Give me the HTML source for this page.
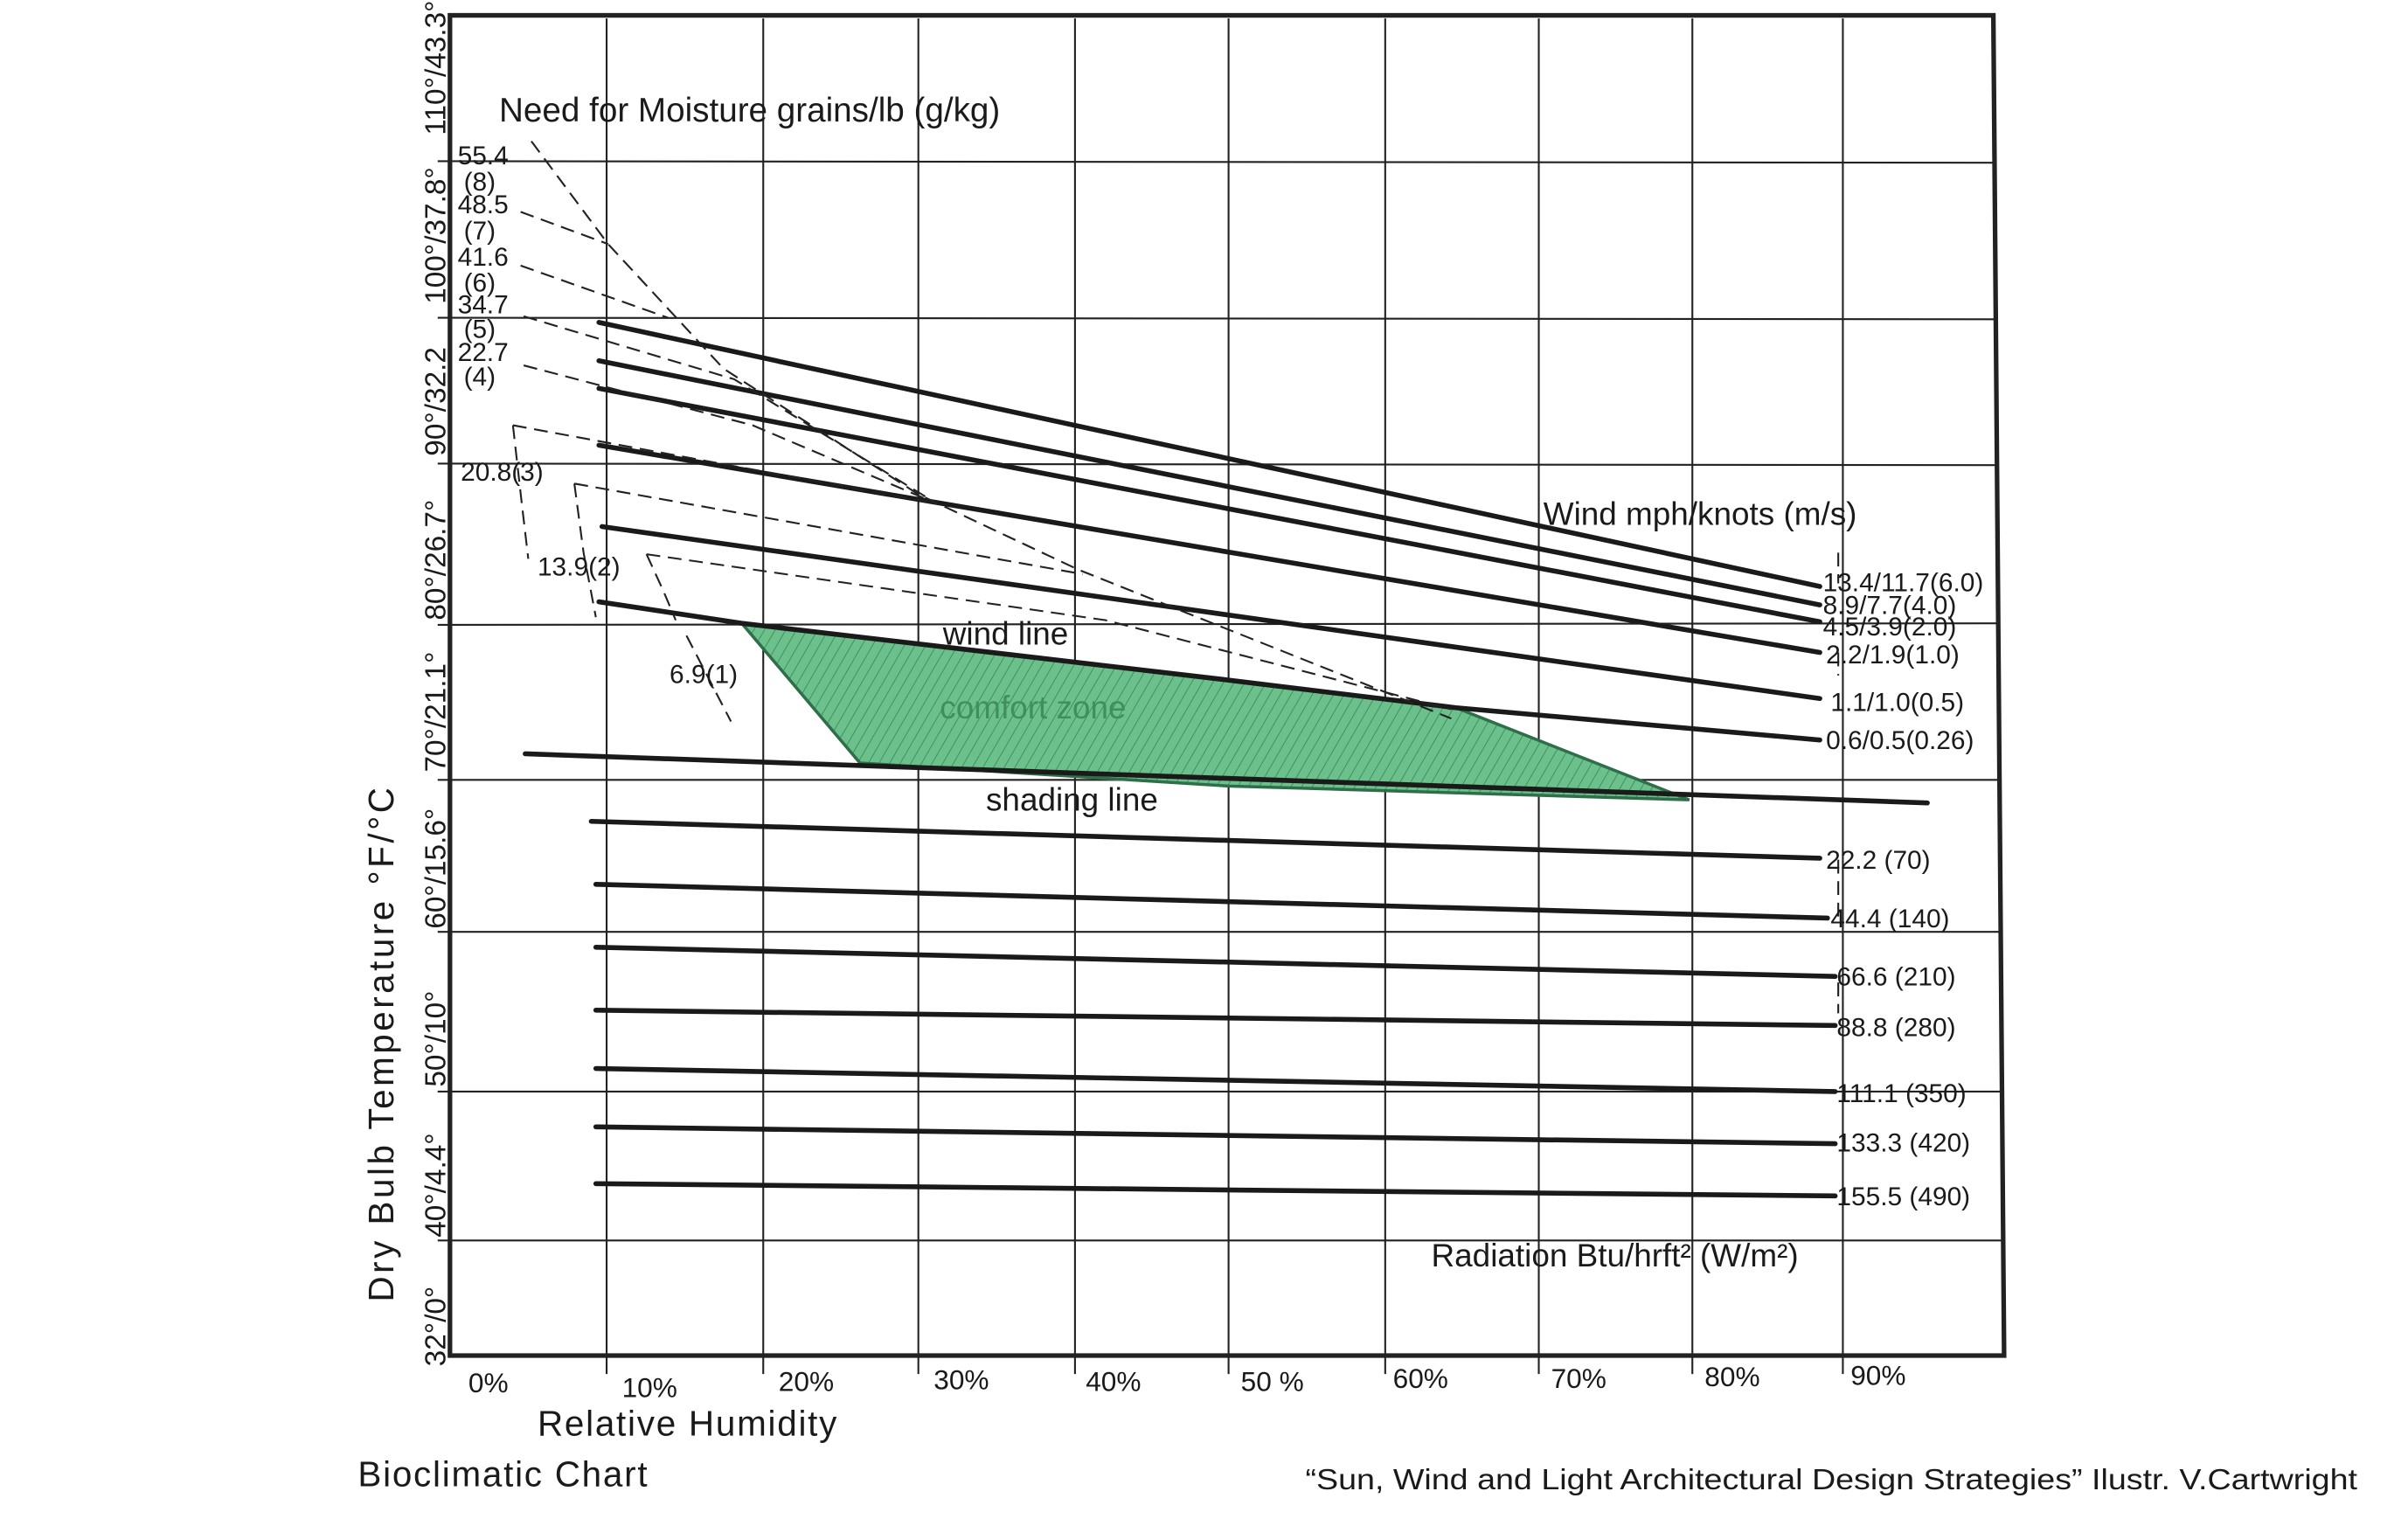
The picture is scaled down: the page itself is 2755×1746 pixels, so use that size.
<!DOCTYPE html>
<html><head><meta charset="utf-8"><style>
html,body{margin:0;padding:0;background:#fff;}
svg{display:block;}
text{font-family:"Liberation Sans",sans-serif;fill:#1a1a1a;}
</style></head><body>
<svg width="2755" height="1746" viewBox="0 0 1568 994" preserveAspectRatio="none" xmlns="http://www.w3.org/2000/svg">
<defs>
<pattern id="h" width="6" height="6" patternUnits="userSpaceOnUse" patternTransform="rotate(30)">
<rect width="6" height="6" fill="#6cc08c"/>
<line x1="0" y1="0" x2="0" y2="6" stroke="#3a8a5a" stroke-width="1"/>
</pattern>
</defs>
<rect width="1568" height="994" fill="#fff"/>
<!-- grid -->
<g stroke="#222" stroke-width="1.2" fill="none">
<line x1="395" y1="12" x2="395" y2="895"/>
<line x1="497" y1="12" x2="497" y2="895"/>
<line x1="598" y1="12" x2="598" y2="895"/>
<line x1="700" y1="12" x2="700" y2="895"/>
<line x1="800" y1="12" x2="800" y2="895"/>
<line x1="902" y1="12" x2="902" y2="895"/>
<line x1="1002" y1="12" x2="1002" y2="895"/>
<line x1="1102" y1="12" x2="1102" y2="895"/>
<line x1="1200" y1="12" x2="1200" y2="895"/>
<line x1="285" y1="105" x2="1300" y2="106"/>
<line x1="285" y1="207" x2="1300" y2="208"/>
<line x1="285" y1="302" x2="1300" y2="303"/>
<line x1="285" y1="407" x2="1301" y2="406"/>
<line x1="285" y1="508" x2="1302" y2="508"/>
<line x1="285" y1="607" x2="1302" y2="607"/>
<line x1="285" y1="711" x2="1303" y2="711"/>
<line x1="285" y1="808" x2="1303" y2="808"/>
</g>
<!-- frame -->
<path d="M293 10 L1298 10 L1305 883 L293 883 Z" fill="none" stroke="#222" stroke-width="3"/>
<!-- comfort zone -->
<polygon points="483,406 800,443 948,461 1100,521 800,512 560,497" fill="url(#h)" stroke="#2e6e48" stroke-width="2"/>
<!-- wind lines -->
<g stroke="#1a1a1a" stroke-width="3.2" fill="none" stroke-linecap="round">
<line x1="390" y1="210" x2="1185" y2="382"/>
<line x1="390" y1="235" x2="1185" y2="394"/>
<line x1="390" y1="253" x2="1185" y2="405"/>
<line x1="390" y1="290" x2="1185" y2="425"/>
<line x1="392" y1="343" x2="1185" y2="455"/>
<polyline points="390,392 483,406 800,443 948,461 1185,482"/>
<line x1="342" y1="491" x2="1255" y2="523"/>
<line x1="385" y1="535" x2="1185" y2="559"/>
<line x1="388" y1="576" x2="1190" y2="598"/>
<line x1="388" y1="617" x2="1195" y2="636"/>
<line x1="388" y1="658" x2="1195" y2="668"/>
<line x1="388" y1="696" x2="1195" y2="711"/>
<line x1="388" y1="734" x2="1195" y2="745"/>
<line x1="388" y1="771" x2="1195" y2="779"/>
</g>
<!-- dashed moisture lines -->
<g stroke="#222" stroke-width="1.2" fill="none" stroke-dasharray="9,5">
<polyline points="346,92 396,159 471,240 598,322 702,371 945,468"/>
<polyline points="339,138 396,159"/>
<polyline points="339,173 435,207"/>
<polyline points="341,206 478,247 610,328"/>
<polyline points="341,238 490,277 610,328"/>
<polyline points="334,277 610,328"/>
<polyline points="334,277 340,330 344,364"/>
<polyline points="374,315 705,374"/>
<polyline points="374,315 380,360 388,402"/>
<polyline points="421,361 720,404 945,462"/>
<polyline points="421,361 432,385 440,404"/>
<polyline points="447,414 476,470"/>
<polyline points="1197,360 1197,380"/>
<polyline points="1197,425 1197,440"/>
<polyline points="1197,560 1197,600"/>
<polyline points="1197,640 1197,660"/>
</g>
<!-- Y axis labels -->
<g font-size="19">
<text transform="translate(290,88) rotate(-90)">110°/43.3°</text>
<text transform="translate(290,198) rotate(-90)">100°/37.8°</text>
<text transform="translate(290,297) rotate(-90)">90°/32.2</text>
<text transform="translate(290,404) rotate(-90)">80°/26.7°</text>
<text transform="translate(290,503) rotate(-90)">70°/21.1°</text>
<text transform="translate(290,605) rotate(-90)">60°/15.6°</text>
<text transform="translate(290,708) rotate(-90)">50°/10°</text>
<text transform="translate(290,806) rotate(-90)">40°/4.4°</text>
<text transform="translate(290,890) rotate(-90)">32°/0°</text>
<text transform="translate(256,848) rotate(-90)" font-size="23" letter-spacing="2">Dry  Bulb  Temperature  °F/°C</text>
</g>
<!-- moisture labels -->
<g font-size="17">
<text x="298" y="107">55.4</text><text x="302" y="124">(8)</text>
<text x="298" y="139">48.5</text><text x="302" y="156">(7)</text>
<text x="298" y="173">41.6</text><text x="302" y="190">(6)</text>
<text x="298" y="204">34.7</text><text x="302" y="220">(5)</text>
<text x="298" y="235">22.7</text><text x="302" y="251">(4)</text>
<text x="300" y="313">20.8(3)</text>
<text x="350" y="375">13.9(2)</text>
<text x="436" y="445">6.9(1)</text>
</g>
<text x="325" y="79" font-size="22">Need for Moisture  grains/lb (g/kg)</text>
<text x="1005" y="342" font-size="21">Wind mph/knots (m/s)</text>
<g font-size="17">
<text x="1187" y="385">13.4/11.7(6.0)</text>
<text x="1187" y="400">8.9/7.7(4.0)</text>
<text x="1187" y="414">4.5/3.9(2.0)</text>
<text x="1189" y="432">2.2/1.9(1.0)</text>
<text x="1192" y="463">1.1/1.0(0.5)</text>
<text x="1189" y="488">0.6/0.5(0.26)</text>
<text x="1189" y="566">22.2 (70)</text>
<text x="1192" y="604">44.4 (140)</text>
<text x="1196" y="642">66.6 (210)</text>
<text x="1196" y="675">88.8 (280)</text>
<text x="1196" y="718">111.1 (350)</text>
<text x="1196" y="750">133.3 (420)</text>
<text x="1196" y="785">155.5 (490)</text>
</g>
<text x="932" y="825" font-size="21">Radiation Btu/hrft² (W/m²)</text>
<text x="614" y="420" font-size="21">wind line</text>
<text x="642" y="528" font-size="21">shading line</text>
<text x="612" y="468" font-size="21" fill="#3f8f5c" style="fill:#3f8f5c">comfort zone</text>
<!-- x labels -->
<g font-size="18">
<text x="305" y="907">0%</text>
<text x="405" y="910">10%</text>
<text x="507" y="906">20%</text>
<text x="608" y="905">30%</text>
<text x="707" y="906">40%</text>
<text x="808" y="906">50 %</text>
<text x="907" y="904">60%</text>
<text x="1010" y="904">70%</text>
<text x="1110" y="903">80%</text>
<text x="1205" y="902">90%</text>
</g>
<text x="350" y="935" font-size="23" letter-spacing="1">Relative  Humidity</text>
<text x="233" y="968" font-size="23" letter-spacing="1">Bioclimatic  Chart</text>
<text x="850" y="970" font-size="19" textLength="685" lengthAdjust="spacingAndGlyphs">“Sun, Wind and Light Architectural Design Strategies” Ilustr. V.Cartwright</text>
</svg>
</body></html>
